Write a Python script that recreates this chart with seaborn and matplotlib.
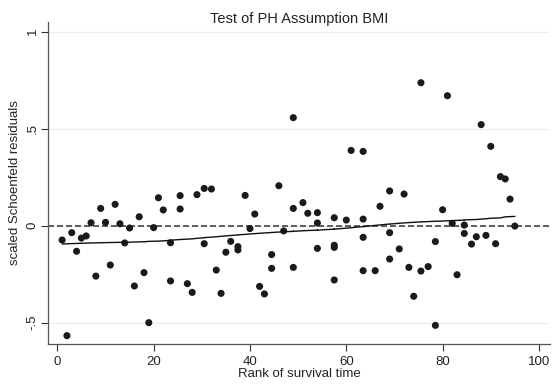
import numpy as np
import pandas as pd
import matplotlib
matplotlib.use("Agg")
import matplotlib.pyplot as plt
import seaborn as sns

rank = [1, 2, 3, 4, 5, 6, 7, 8, 9, 10, 11, 12, 13, 14, 15, 16, 17, 18, 19, 20,
        21, 22, 23.5, 23.5, 25.5, 25.5, 27, 28, 29, 30.5, 30.5, 32, 33, 34, 35, 36,
        37.5, 37.5, 39, 40, 41, 42, 43, 44.5, 44.5, 46, 47, 49, 49, 49, 51, 52,
        54, 54, 54, 57.5, 57.5, 57.5, 57.5, 60, 61, 63.5, 63.5, 63.5, 63.5, 66, 67,
        69, 69, 69, 71, 72, 73, 74, 75.5, 75.5, 77, 78.5, 78.5, 80, 81, 82, 83,
        84.5, 84.5, 86, 87, 88, 89, 90, 91, 92, 93, 94, 95]
resid = [-0.074, -0.567, -0.036, -0.132, -0.064, -0.053, 0.015, -0.26, 0.089, 0.017,
         -0.203, 0.11, 0.01, -0.089, -0.012, -0.311, 0.046, -0.242, -0.5, -0.01,
         0.144, 0.081, -0.088, -0.285, 0.155, 0.086, -0.299, -0.344, 0.16, 0.192,
         -0.093, 0.189, -0.229, -0.349, -0.137, -0.081, -0.108, -0.125, 0.156, -0.015,
         0.06, -0.313, -0.352, -0.149, -0.22, 0.206, -0.027, 0.557, 0.089, -0.215,
         0.119, 0.064, 0.067, 0.014, -0.117, 0.041, -0.101, -0.112, -0.28, 0.029,
         0.388, 0.383, 0.034, -0.06, -0.232, -0.232, 0.1, 0.179, -0.036, -0.172,
         -0.12, 0.163, -0.215, -0.364, 0.737, -0.234, -0.211, -0.082, -0.514, 0.082,
         0.670, 0.012, -0.253, 0.003, -0.04, -0.095, -0.057, 0.521, -0.05, 0.409,
         -0.093, 0.253, 0.241, 0.137, -0.002]

xticks = [0, 20, 40, 60, 80, 100]
yticks = [-0.5, 0, 0.5, 1]
ytick_labels = ["-.5", "0", ".5", "1"]
title = "Test of PH Assumption BMI"
xlabel = "Rank of survival time"
ylabel = "scaled Schoenfeld residuals"


def stata_lowess_mean(x, y, bw=0.8):
    order = np.argsort(x, kind="mergesort")
    xs = np.asarray(x, float)[order]
    ys = np.asarray(y, float)[order]
    n = len(xs)
    k = int(np.floor((n * bw - 0.5) / 2))
    out = np.empty(n)
    for i in range(n):
        lo = max(0, i - k)
        hi = min(n - 1, i + k)
        xw = xs[lo:hi + 1]
        yw = ys[lo:hi + 1]
        delta = 1.0001 * max(xs[hi] - xs[i], xs[i] - xs[lo])
        w = (1 - (np.abs(xw - xs[i]) / delta) ** 3) ** 3
        out[i] = (w * yw).sum() / w.sum()
    return xs, out


df = pd.DataFrame({"rank": rank, "resid": resid})
sx, sy = stata_lowess_mean(df["rank"].values, df["resid"].values)
smooth = pd.DataFrame({"rank": sx, "fit": sy})

sns.set_theme(style="white")
plt.rcParams["font.family"] = ["Liberation Sans", "DejaVu Sans"]

fig = plt.figure(figsize=(5.54, 3.89), dpi=100)
ax = fig.add_axes([0.0872, 0.1157, 0.9056, 0.8277])

for yv in yticks:
    ax.axhline(yv, color="#eeeeee", lw=0.9, zorder=0)
ax.axhline(0, color="#444444", lw=1.2, linestyle=(0, (3.6, 1.8)), zorder=1)

sns.scatterplot(data=df, x="rank", y="resid", ax=ax, color="#1a1a1a",
                s=26, edgecolor="none", linewidth=0, zorder=3)
sns.lineplot(data=smooth, x="rank", y="fit", ax=ax, color="#111111",
             lw=1.0, estimator=None, sort=False, zorder=4)

ax.set_xlim(-1.87, 102.3)
ax.set_ylim(-0.61, 1.05)
ax.set_xticks(xticks)
ax.set_xticklabels([str(t) for t in xticks], fontsize=9.5)
ax.set_yticks(yticks)
ax.set_yticklabels(ytick_labels, fontsize=9.5, rotation=90, va="center")
ax.tick_params(axis="both", which="both", direction="out", length=5,
               width=0.8, color="#333333", labelcolor="#222222",
               left=True, bottom=True)
ax.tick_params(axis="x", pad=4)
ax.tick_params(axis="y", pad=2)

for s in ["top", "right"]:
    ax.spines[s].set_visible(False)
for s in ["left", "bottom"]:
    ax.spines[s].set_color("#555555")
    ax.spines[s].set_linewidth(0.9)

ax.set_xlabel(xlabel, fontsize=9.5, color="#222222", labelpad=0)
ax.set_ylabel(ylabel, fontsize=9.5, color="#222222", labelpad=4)
ax.set_title(title, fontsize=10.5, color="#222222", y=1.0, pad=-0.5)

fig.savefig("out.png", dpi=100)
